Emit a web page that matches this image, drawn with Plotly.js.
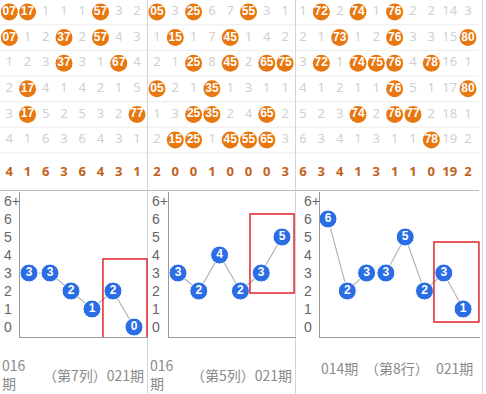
<!DOCTYPE html>
<html><head><meta charset="utf-8">
<script src="https://cdn.plot.ly/plotly-3.0.1.min.js"></script>
<style>html,body{margin:0;padding:0;background:#fff}#c{width:486px;height:394px}</style>
</head><body><div id="c"></div>
<script>
// ---- data ----
const panel1Rows = [
  ["07","17",1,1,1,"57",3,2],
  ["07",1,2,"37",2,"57",4,3],
  [1,2,3,"37",3,1,"67",4],
  [2,"17",4,1,4,2,1,5],
  [3,"17",5,2,5,3,2,"77"],
  [4,1,6,3,6,4,3,1]
];
const panel1Summary = [4,1,6,3,6,4,3,1];
const panel2Rows = [
  ["05",3,"25",6,7,"55",3,1],
  [1,"15",1,7,"45",1,4,2],
  [2,1,"25",8,"45",2,"65","75"],
  ["05",2,1,"35",1,3,1,1],
  [1,3,"25","35",2,4,"65",2],
  [2,"15","25",1,"45","55","65",3]
];
const panel2Summary = [2,0,0,1,0,0,0,3];
const panel3Rows = [
  [1,"72",2,"74",1,"76",2,2,14,3],
  [2,1,"73",1,2,"76",3,3,15,"80"],
  [3,"72",1,"74","75","76",4,"78",16,1],
  [4,1,2,1,1,"76",5,1,17,"80"],
  [5,2,3,"74",2,"76","77",2,18,1],
  [6,3,4,1,3,1,1,"78",19,2]
];
const panel3Summary = [6,3,4,1,3,1,1,0,19,2];

const chart1Values = [3,3,2,1,2,0];
const chart2Values = [3,2,4,2,3,5];
const chart3Values = [6,2,3,3,5,2,3,1];
const yTickLabels = ["0","1","2","3","4","5","6","6+"];
const chart1Caption = "（第7列）021期";
const chart2Caption = "（第5列）021期";
const chart3Captions = ["014期","（第8行）","021期"];
const chartStartLabel = "016<br>期";

// ---- helpers ----
const W = 486, H = 394;
const px = v => v / W;
const py = v => 1 - v / H;
const ORANGE = "#E8770F", SUMC = "#C2621C", GRAY = "#D0D0D0", BLUE = "#2A6DE4";
const NUMFONT = "Liberation Sans, Arial, sans-serif";
const CJK = "Noto Sans CJK SC, sans-serif";

const traces = [];
function gridTraces(rows, summary, xa) {
  const bx=[],by=[],bt=[],gx=[],gy=[],gt=[];
  rows.forEach((row,r)=>row.forEach((v,c)=>{
    if (typeof v === "string") { bx.push(c); by.push(r); bt.push(v); }
    else { gx.push(c); gy.push(r); gt.push(String(v)); }
  }));
  traces.push({type:"scatter",mode:"text",x:gx,y:gy,text:gt,xaxis:xa,yaxis:"y",
    textfont:{family:"Noto Sans, sans-serif",size:13,color:GRAY},cliponaxis:false,hoverinfo:"skip"});
  traces.push({type:"scatter",mode:"markers+text",x:bx,y:by,text:bt,xaxis:xa,yaxis:"y",
    marker:{size:17,color:ORANGE,line:{width:0}},
    textfont:{family:NUMFONT,size:12,color:"#fff",weight:"bold"},textposition:"middle center",
    cliponaxis:false,hoverinfo:"skip"});
  traces.push({type:"scatter",mode:"text",x:summary.map((_,i)=>i),y:summary.map(()=>6.29),
    text:summary.map(String),xaxis:xa,yaxis:"y",
    textfont:{family:"Noto Sans, sans-serif",size:13,color:SUMC,weight:"bold"},cliponaxis:false,hoverinfo:"skip"});
}
gridTraces(panel1Rows, panel1Summary, "x");
gridTraces(panel2Rows, panel2Summary, "x2");
gridTraces(panel3Rows, panel3Summary, "x3");

function chartTrace(vals, n) {
  traces.push({type:"scatter",mode:"lines+markers+text",x:vals.map((_,i)=>i),y:vals,
    text:vals.map(String),xaxis:"x"+n,yaxis:"y"+n,
    line:{color:"#B5B5B5",width:1.2},
    marker:{size:18,color:BLUE,line:{width:1,color:"#fff"}},
    textfont:{family:NUMFONT,size:12,color:"#fff",weight:"bold"},textposition:"middle center",
    cliponaxis:false,hoverinfo:"skip"});
}
chartTrace(chart1Values, 4);
chartTrace(chart2Values, 5);
chartTrace(chart3Values, 6);

// ---- layout ----
const gridY = {domain:[py(188),1],range:[6.875,-0.469],visible:false,fixedrange:true};
function hidden(dom, rng){ return {domain:dom,range:rng,visible:false,fixedrange:true}; }
function chartX(dom,rng){ return {domain:dom,range:rng,showline:true,linecolor:"#9A9A9A",linewidth:1,
  showgrid:false,zeroline:false,showticklabels:false,ticks:"",fixedrange:true}; }
function chartY(){ return {domain:[py(337),py(192)],range:[-0.556,7.5],showline:true,linecolor:"#9A9A9A",linewidth:1,
  showgrid:false,zeroline:false,showticklabels:false,ticks:"",fixedrange:true}; }

const layout = {
  width:W,height:H,margin:{l:0,r:0,t:0,b:0},paper_bgcolor:"#fff",plot_bgcolor:"rgba(0,0,0,0)",
  showlegend:false,
  xaxis: hidden([0,px(147)],[-0.51,7.55]),
  xaxis2: hidden([px(148),px(295)],[-0.49,7.54]),
  xaxis3: hidden([px(296),px(479)],[-0.38,9.6]),
  yaxis: gridY,
  xaxis4: chartX([px(20),px(148)],[-0.4286,5.667]),
  yaxis4: Object.assign(chartY(),{anchor:"x4"}),
  xaxis5: chartX([px(169),px(295.5)],[-0.433,5.649]),
  yaxis5: Object.assign(chartY(),{anchor:"x5"}),
  xaxis6: chartX([px(320),px(480)],[-0.4145,7.876]),
  yaxis6: Object.assign(chartY(),{anchor:"x6"}),
  shapes:[],annotations:[]
};
layout.xaxis4.anchor="y4"; layout.xaxis5.anchor="y5"; layout.xaxis6.anchor="y6";

// row separators
[[0,147],[148,295],[296,479]].forEach(([a,b])=>{
  for (let r=0;r<6;r++) layout.shapes.push({type:"line",xref:"paper",yref:"y",x0:px(a),x1:px(b),y0:r+0.5,y1:r+0.5,
    line:{color:"#ECECEC",width:1},layer:"below"});
  layout.shapes.push({type:"line",xref:"paper",yref:"paper",x0:px(a),x1:px(b),y0:py(190.5),y1:py(190.5),
    line:{color:"#BDBDBD",width:1},layer:"below"});
});
// panel dividers
[147.5,295.5,482.5].forEach(x=>layout.shapes.push({type:"line",xref:"paper",yref:"paper",x0:px(x),x1:px(x),y0:0,y1:1,
  line:{color:"#D4D4D4",width:1},layer:"below"}));
// highlight boxes
[[4,3.52,5.62,-0.61,3.78],[5,3.46,5.58,1.89,6.28],[6,5.49,7.82,0.28,4.72]].forEach(([n,x0,x1,y0,y1])=>
  layout.shapes.push({type:"rect",xref:"x"+n,yref:"y"+n,x0,x1,y0,y1,line:{color:"#E0262B",width:1.5},fillcolor:"rgba(0,0,0,0)",layer:"above"}));

// y tick labels
[[2,4],[150,5],[302,6]].forEach(([x,n])=>{
  yTickLabels.forEach((t,i)=>layout.annotations.push({text:t,xref:"paper",yref:"y"+n,x:px(x),y:i,
    xanchor:"left",yanchor:"middle",showarrow:false,font:{family:NUMFONT,size:14,color:"#666"}}));
});
// captions
const capFont = {family:CJK,size:14,color:"#8A8A8A"};
[[0,chart1Caption],[148,chart2Caption]].forEach(([off,cap])=>{
  layout.annotations.push({text:chartStartLabel,xref:"paper",yref:"paper",x:px(off),y:py(373.5),xanchor:"left",yanchor:"middle",align:"left",showarrow:false,font:capFont});
  layout.annotations.push({text:cap,xref:"paper",yref:"paper",x:px(off+146),y:py(375),xanchor:"right",yanchor:"middle",showarrow:false,font:capFont});
});
layout.annotations.push({text:chart3Captions[0],xref:"paper",yref:"paper",x:px(319),y:py(368),xanchor:"left",yanchor:"middle",showarrow:false,font:capFont});
layout.annotations.push({text:chart3Captions[1],xref:"paper",yref:"paper",x:px(397),y:py(368),xanchor:"center",yanchor:"middle",showarrow:false,font:capFont});
layout.annotations.push({text:chart3Captions[2],xref:"paper",yref:"paper",x:px(475),y:py(368),xanchor:"right",yanchor:"middle",showarrow:false,font:capFont});

Plotly.newPlot("c", traces, layout, {staticPlot:true,displayModeBar:false});
</script></body></html>
